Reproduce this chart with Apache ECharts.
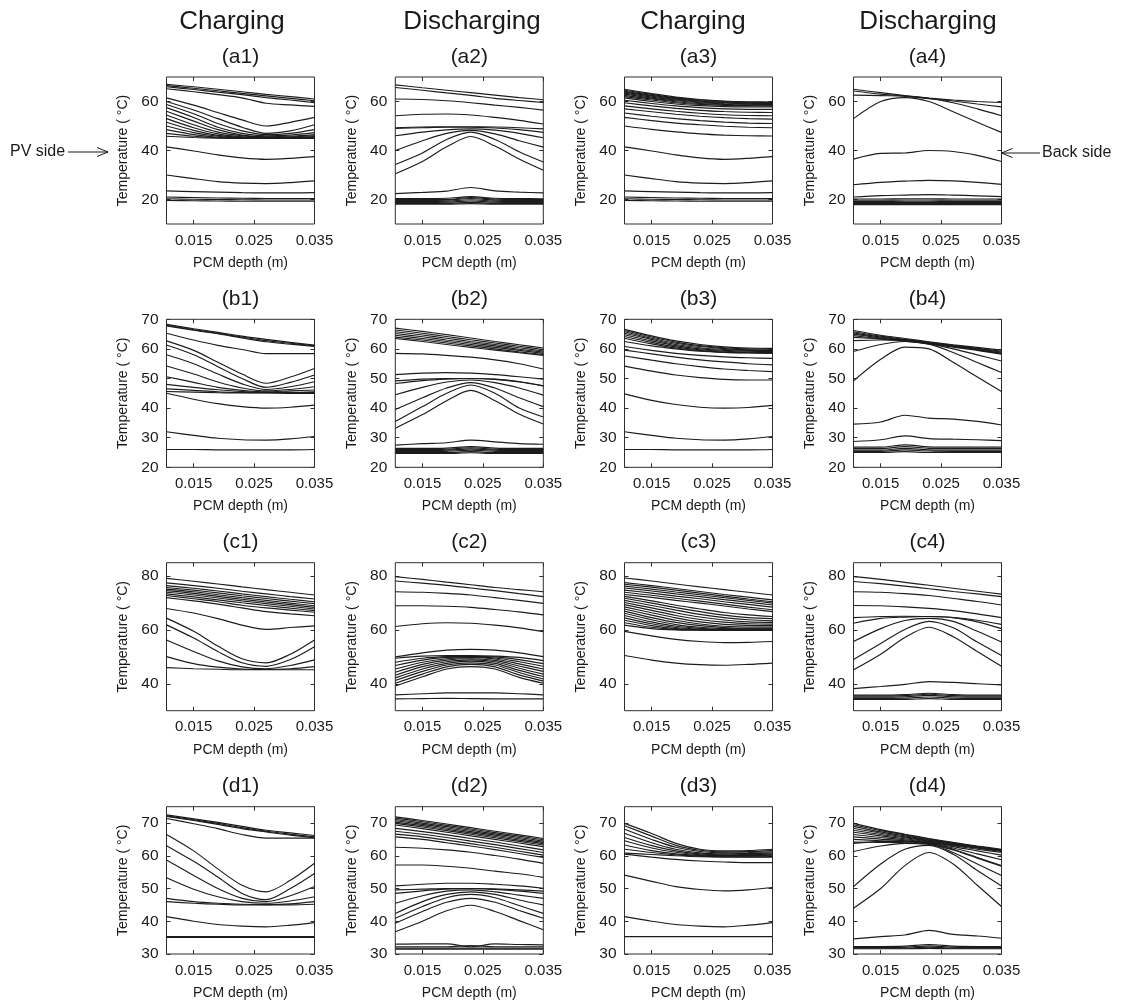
<!DOCTYPE html>
<html><head><meta charset="utf-8">
<script src="https://cdn.jsdelivr.net/npm/echarts@6/dist/echarts.min.js"></script>
<style>html,body{margin:0;padding:0;background:#fff}#c{width:1123px;height:1006px}</style>
</head><body><div id="c"></div>
<script>
// ---------- data ----------
const depth = [0.0105, 0.015, 0.019, 0.023, 0.027, 0.031, 0.035];
const xTicks = [0.015, 0.025, 0.035];
const yTicksA = [20, 40, 60];
const yTicksB = [20, 30, 40, 50, 60, 70];
const yTicksC = [40, 60, 80];
const yTicksD = [30, 40, 50, 60, 70];
const yRanges = [[10, 70], [20, 70], [30, 85], [30, 75]];
const colTitles = ['Charging', 'Discharging', 'Charging', 'Discharging'];
const panelLabels = [['(a1)','(a2)','(a3)','(a4)'],['(b1)','(b2)','(b3)','(b4)'],['(c1)','(c2)','(c3)','(c4)'],['(d1)','(d2)','(d3)','(d4)']];
const xName = 'PCM depth (m)';
const yName = 'Temperature ( °C)';

const a1 = [
 [67, 66, 65, 64, 62.9, 62, 61],
 [66.5, 65.4, 64.4, 63.3, 62.3, 61.3, 60.3],
 [66, 64.9, 63.8, 62.8, 61.6, 60.6, 59.5],
 [65.2, 64, 62.8, 61.5, 59.3, 58.6, 58],
 [61.5, 58.5, 55.5, 52.5, 50, 51.5, 53.5],
 [60, 56.5, 53, 49.5, 47, 48, 50.5],
 [58.8, 55, 51, 48, 46.5, 47, 48.5],
 [57.5, 53.5, 49.5, 47, 46, 46.3, 47.3],
 [56, 52, 48.5, 46.3, 45.6, 45.8, 46.5],
 [54.5, 50.5, 47.5, 46, 45.4, 45.5, 46],
 [53, 49.3, 46.8, 45.6, 45.3, 45.3, 45.7],
 [51.5, 48.2, 46.2, 45.4, 45.2, 45.2, 45.4],
 [50, 47.3, 45.8, 45.2, 45.1, 45.1, 45.2],
 [48.5, 46.5, 45.4, 45.1, 45, 45, 45.1],
 [47, 45.8, 45.2, 45, 45, 45, 45],
 [45.8, 45.3, 45, 44.9, 44.9, 44.9, 44.9],
 [41.5, 39.8, 38.2, 37, 36.4, 36.8, 37.5],
 [30, 28.5, 27.3, 26.7, 26.5, 26.9, 27.6],
 [23.5, 23.2, 23, 22.8, 22.7, 22.7, 22.8],
 [21, 20.8, 20.6, 20.5, 20.4, 20.4, 20.4],
 [20.3, 20.1, 20, 19.9, 19.8, 19.8, 19.8],
 [19.6, 19.5, 19.4, 19.3, 19.3, 19.3, 19.3]
];
const a2 = [
 [66.8, 65.6, 64.6, 63.6, 62.6, 61.6, 60.7],
 [65.7, 64.6, 63.5, 62.5, 61.3, 60.4, 59.6],
 [61, 60.8, 60.3, 59.5, 58.5, 57.6, 56.5],
 [54.2, 54.8, 54.9, 54.5, 53.5, 52.3, 50.8],
 [49.3, 49.6, 49.7, 49.7, 49.6, 49.3, 48.8],
 [49, 49.3, 49.5, 49.5, 49.2, 48.5, 47.4],
 [46, 47.5, 48.4, 48.8, 48.3, 47, 45.2],
 [40, 44, 47, 48.2, 46.8, 44, 41.4],
 [34.3, 39, 44.5, 47.5, 44.5, 39.5, 35.3],
 [30.5, 35.5, 41.5, 45.7, 41.8, 36.5, 31.9],
 [22.4, 22.9, 23.4, 24.9, 23.5, 23, 22.7],
 [20.4, 20.4, 20.5, 21.2, 20.5, 20.4, 20.3],
 [20, 20, 20, 20.8, 20.1, 20, 20],
 [19.6, 19.6, 19.7, 20.4, 19.7, 19.6, 19.6],
 [19.2, 19.2, 19.3, 19.9, 19.3, 19.2, 19.2],
 [18.8, 18.8, 18.9, 19.4, 18.9, 18.8, 18.8],
 [18.4, 18.4, 18.4, 18.8, 18.4, 18.4, 18.4],
 [18.1, 18.1, 18.1, 18.3, 18.1, 18.1, 18.1]
];
const a3 = [
 [65, 63.2, 61.8, 60.8, 60.2, 59.9, 59.8],
 [64.6, 62.9, 61.5, 60.6, 60, 59.7, 59.6],
 [64.2, 62.5, 61.2, 60.3, 59.8, 59.5, 59.4],
 [63.8, 62.2, 60.9, 60.1, 59.6, 59.3, 59.2],
 [63.4, 61.8, 60.6, 59.8, 59.4, 59.1, 59],
 [63, 61.4, 60.3, 59.5, 59.1, 58.9, 58.8],
 [62.5, 61, 59.9, 59.2, 58.8, 58.6, 58.5],
 [62, 60.6, 59.5, 58.8, 58.4, 58.3, 58.2],
 [61.5, 60, 59, 58.3, 57.9, 57.8, 57.8],
 [60.5, 59.2, 58.2, 57.5, 57, 56.8, 56.8],
 [59.5, 58.2, 57.2, 56.4, 55.9, 55.6, 55.5],
 [58.2, 57, 56, 55.2, 54.6, 54.3, 54.2],
 [57, 55.8, 54.8, 54, 53.4, 53, 52.8],
 [55.3, 54, 53, 52.2, 51.6, 51.2, 51],
 [53.5, 52.2, 51.2, 50.5, 49.9, 49.5, 49.3],
 [50, 48.6, 47.6, 46.8, 46.3, 46, 45.9],
 [41.5, 39.8, 38.2, 37, 36.4, 36.8, 37.5],
 [30, 28.5, 27.3, 26.7, 26.5, 26.9, 27.6],
 [23.5, 23.2, 23, 22.8, 22.7, 22.7, 22.8],
 [21, 20.8, 20.6, 20.5, 20.4, 20.4, 20.4],
 [20.3, 20.1, 20, 19.9, 19.8, 19.8, 19.8],
 [19.6, 19.5, 19.4, 19.3, 19.3, 19.3, 19.3]
];
const a4 = [
 [65, 63.6, 62.4, 61.4, 60.6, 60, 59.6],
 [64.3, 63, 62.2, 61.2, 60.2, 59, 57.8],
 [62.6, 62.4, 62.2, 61.3, 59.5, 57, 54.2],
 [53, 60, 61.6, 60, 55.8, 51.5, 47.4],
 [36.5, 38.8, 39, 40, 39.6, 38, 35.5],
 [26, 27, 27.5, 27.8, 27.6, 27, 26.2],
 [21, 21.6, 21.8, 22, 21.8, 21.5, 21.2],
 [20.2, 20.2, 20.3, 20.3, 20.2, 20.2, 20.2],
 [19.7, 19.7, 19.8, 19.8, 19.7, 19.7, 19.7],
 [19.2, 19.2, 19.3, 19.3, 19.2, 19.2, 19.2],
 [18.7, 18.7, 18.8, 18.8, 18.7, 18.7, 18.7],
 [18.3, 18.3, 18.3, 18.3, 18.3, 18.3, 18.3],
 [17.9, 17.9, 17.9, 17.9, 17.9, 17.9, 17.9]
];
const b1 = [
 [68.3, 66.8, 65.6, 64.3, 63.2, 62.2, 61.3],
 [68, 66.5, 65.3, 64, 62.8, 61.9, 61],
 [67.8, 66.3, 65.1, 63.7, 62.4, 61.6, 60.8],
 [65.3, 63, 61.2, 59.8, 58.4, 58.4, 58.4],
 [62.7, 59.5, 55.5, 51.5, 48.4, 50.5, 53.4],
 [61.3, 58, 54, 50, 47, 48.7, 51.2],
 [58, 55, 51.5, 48.2, 46.3, 47.2, 48.9],
 [54.2, 51.5, 48.8, 46.8, 45.8, 46.3, 47.2],
 [50.6, 48.7, 47, 46, 45.5, 45.8, 46.1],
 [48, 47, 46.2, 45.6, 45.3, 45.3, 45.5],
 [46.5, 46, 45.5, 45.3, 45.2, 45.2, 45.3],
 [45.6, 45.4, 45.2, 45.1, 45.1, 45, 45],
 [45, 43, 41.5, 40.5, 40, 40.3, 41],
 [32, 30.8, 29.8, 29.3, 29.2, 29.6, 30.4],
 [26, 26, 25.9, 25.9, 25.9, 25.9, 26]
];
const b2 = [
 [67, 65.9, 64.8, 63.7, 62.5, 61.4, 60.3],
 [66.4, 65.3, 64.2, 63.1, 62, 60.9, 59.8],
 [65.8, 64.7, 63.6, 62.5, 61.5, 60.4, 59.3],
 [65.2, 64.1, 63, 62, 61, 59.9, 58.9],
 [64.6, 63.5, 62.5, 61.5, 60.5, 59.5, 58.5],
 [64, 63, 62, 61, 60, 59, 58.1],
 [63.5, 62.5, 61.5, 60.5, 59.6, 58.7, 57.8],
 [58.5, 58.3, 57.8, 57.2, 56.3, 55, 53.2],
 [51.3, 51.8, 52, 51.8, 51.3, 50.6, 49.8],
 [49.2, 49.8, 50, 50, 49.7, 48.8, 47.5],
 [48.3, 49.3, 49.8, 50, 49.8, 49, 47.5],
 [44.5, 47, 48.8, 49.5, 48.6, 46.8, 44.4],
 [39.5, 43.5, 46.8, 48.6, 46.8, 43.5, 40.5],
 [35.5, 40.5, 45, 47.8, 45, 40, 37],
 [33.2, 37.8, 42.5, 46, 42.5, 38, 34.6],
 [27.5, 28, 28.3, 29.2, 28.6, 28, 27.8],
 [26.4, 26.4, 26.5, 27, 26.5, 26.4, 26.4],
 [26, 26, 26.1, 26.6, 26.1, 26, 26],
 [25.7, 25.7, 25.8, 26.2, 25.8, 25.7, 25.7],
 [25.3, 25.3, 25.4, 25.8, 25.4, 25.3, 25.3],
 [25, 25, 25, 25.3, 25, 25, 25],
 [24.7, 24.7, 24.7, 24.9, 24.7, 24.7, 24.7]
];
const b3 = [
 [66.6, 64.4, 62.7, 61.5, 60.7, 60.3, 60.2],
 [66.2, 64, 62.3, 61.1, 60.4, 60, 59.9],
 [65.8, 63.6, 61.9, 60.8, 60.1, 59.7, 59.6],
 [65.3, 63.2, 61.5, 60.4, 59.8, 59.5, 59.4],
 [64.8, 62.7, 61.1, 60, 59.5, 59.2, 59.1],
 [64.2, 62.2, 60.7, 59.7, 59.2, 58.9, 58.8],
 [63.6, 61.7, 60.3, 59.4, 58.9, 58.7, 58.6],
 [62.5, 61, 60, 59.2, 58.8, 58.6, 58.5],
 [60.8, 59.5, 58.5, 57.8, 57.3, 57, 56.8],
 [59.6, 58.3, 57.2, 56.3, 55.6, 55, 54.6],
 [57.6, 56.2, 55, 54, 53.2, 52.7, 52.3],
 [54.2, 52.5, 51.2, 50.3, 49.7, 49.5, 49.5],
 [44.8, 42.6, 41.2, 40.3, 40, 40.2, 40.9],
 [32, 30.8, 29.8, 29.3, 29.2, 29.6, 30.4],
 [26, 26, 25.9, 25.9, 25.9, 25.9, 26]
];
const b4 = [
 [66.2, 64.6, 63.5, 62.4, 61.4, 60.5, 59.6],
 [65.8, 64.3, 63.2, 62.2, 61.2, 60.2, 59.2],
 [65.4, 64, 63, 62, 61, 60, 58.9],
 [65, 63.7, 62.8, 61.9, 60.8, 59.7, 58.5],
 [64.5, 63.4, 62.6, 61.7, 60.6, 59.5, 58.2],
 [63.9, 63.4, 63, 62.2, 61, 59.8, 58.5],
 [62.8, 63, 62.8, 61.8, 60, 58, 55.9],
 [59.1, 61.5, 62.5, 61.6, 58.8, 55.4, 52],
 [49.2, 56.5, 60.6, 60, 55.5, 50.5, 45.6],
 [34.6, 35.3, 37.6, 36.6, 36.3, 35.5, 34.3],
 [28.7, 29.3, 30.6, 29.7, 29.5, 29.3, 29],
 [26.8, 26.8, 27.6, 26.9, 26.8, 26.8, 26.8],
 [26.3, 26.3, 27, 26.4, 26.3, 26.3, 26.3],
 [25.8, 25.8, 26.4, 25.9, 25.8, 25.8, 25.8],
 [25.4, 25.4, 25.9, 25.5, 25.4, 25.4, 25.4],
 [25, 25, 25.3, 25, 25, 25, 25]
];
const c1 = [
 [79.2, 78.1, 77.1, 76, 75, 74, 73],
 [77.5, 76.5, 75.5, 74.4, 73.4, 72.4, 71.5],
 [76.5, 75.5, 74.5, 73.4, 72.4, 71.4, 70.5],
 [75.8, 74.8, 73.8, 72.7, 71.7, 70.7, 69.8],
 [75.2, 74.2, 73.1, 72, 71, 70, 69],
 [74.6, 73.6, 72.5, 71.4, 70.4, 69.4, 68.4],
 [74, 73, 71.9, 70.8, 69.8, 68.8, 67.8],
 [73.4, 72.3, 71.2, 70.1, 69.1, 68.1, 67.2],
 [72.8, 71.6, 70.5, 69.2, 68.2, 67.4, 66.6],
 [72, 70.8, 69.6, 68.2, 66.8, 66, 65.3],
 [68, 66.3, 64.2, 61.8, 60.2, 60.9, 61.5],
 [64.4, 59.5, 54, 49.3, 47.8, 51, 56.3],
 [61.9, 57, 52, 47.8, 46.5, 49, 53.8],
 [56.3, 52, 48.5, 46.3, 45.6, 46.8, 48.9],
 [50.1, 47.5, 46.2, 45.5, 45.3, 45.6, 46.4],
 [46, 45.6, 45.4, 45.2, 45.2, 45.2, 45.2]
];
const c2 = [
 [79.8, 78.8, 77.8, 76.8, 75.8, 75, 74.2],
 [78.2, 77.4, 76.6, 75.6, 74.6, 73.5, 72.4],
 [74.2, 74, 73.6, 73, 72, 71, 69.9],
 [69, 69, 68.8, 68.4, 67.6, 66.7, 65.6],
 [61.3, 62.3, 62.7, 62.5, 61.8, 60.8, 59.4],
 [50, 51.5, 52.5, 52.8, 52.5, 51.5, 50.1],
 [49.5, 50.3, 50.5, 50.5, 50.3, 49.8, 48.6],
 [48, 49.5, 50.1, 50.2, 50, 49, 47.5],
 [46.8, 48.8, 49.8, 50, 49.6, 48.2, 46.5],
 [45.5, 48, 49.3, 49.7, 49.2, 47.4, 45.5],
 [44.3, 47.2, 48.8, 49.3, 48.7, 46.6, 44.6],
 [43.2, 46.4, 48.2, 48.9, 48.2, 45.8, 43.6],
 [42.2, 45.5, 47.6, 48.4, 47.6, 45, 42.7],
 [41.2, 44.6, 47, 47.8, 47, 44.2, 41.8],
 [40.2, 43.6, 46.3, 47.2, 46.3, 43.3, 41],
 [39.2, 42.6, 45.5, 46.4, 45.5, 42.4, 40.2],
 [35.9, 36.3, 36.6, 36.6, 36.6, 36.3, 35.9],
 [34.4, 34.5, 34.6, 34.5, 34.4, 34.4, 34.4]
];
const c3 = [
 [79.3, 78.2, 77.1, 76, 75, 74, 73],
 [77.6, 76.5, 75.4, 74.3, 73.2, 72.2, 71.2],
 [77, 75.9, 74.8, 73.7, 72.6, 71.5, 70.5],
 [76.3, 75.2, 74.1, 73.1, 72, 71, 70],
 [75.6, 74.5, 73.4, 72.4, 71.3, 70.3, 69.3],
 [74.8, 73.7, 72.6, 71.6, 70.5, 69.5, 68.5],
 [74, 72.9, 71.8, 70.7, 69.6, 68.5, 67.5],
 [73.2, 72.1, 71, 70, 68.9, 67.8, 66.8],
 [72.5, 70.8, 69.2, 67.8, 66.5, 65.6, 65],
 [71.8, 70, 68.3, 66.8, 65.5, 64.6, 64.2],
 [71, 69.1, 67.4, 65.8, 64.6, 63.8, 63.4],
 [70.2, 68.2, 66.4, 64.8, 63.7, 63, 62.8],
 [69.4, 67.3, 65.4, 63.9, 62.9, 62.3, 62.2],
 [68.6, 66.4, 64.5, 63, 62.1, 61.7, 61.6],
 [67.8, 65.5, 63.6, 62.2, 61.4, 61.1, 61.1],
 [67, 64.6, 62.8, 61.6, 60.9, 60.7, 60.7],
 [66.2, 63.8, 62, 61, 60.5, 60.4, 60.4],
 [65.4, 63, 61.4, 60.6, 60.2, 60.2, 60.2],
 [64.5, 62.3, 60.9, 60.3, 60.1, 60.1, 60.1],
 [63.6, 61.6, 60.5, 60.1, 60, 60, 60],
 [62.7, 61, 60.2, 60, 59.9, 59.9, 59.9],
 [61.8, 60.5, 60, 59.9, 59.8, 59.8, 59.8],
 [59.5, 57.8, 56.5, 55.7, 55.3, 55.4, 55.7],
 [50.5, 48.8, 47.7, 47.1, 46.9, 47.2, 47.7]
];
const c4 = [
 [79.8, 78.8, 77.7, 76.6, 75.5, 74.4, 73.3],
 [78, 77.2, 76.3, 75.3, 74.3, 73.4, 72.4],
 [74.2, 74, 73.5, 72.8, 71.7, 70.6, 69.3],
 [69.1, 69, 68.6, 68, 67.2, 66, 64.6],
 [64.6, 65, 65.1, 65, 64.6, 63.6, 62.1],
 [62.5, 64.3, 64.8, 65, 64.6, 63, 60.5],
 [55.7, 60.5, 63.5, 64.3, 63.2, 59.5, 55.5],
 [49, 55, 60.2, 63.2, 60.8, 55.5, 50.5],
 [45.2, 51, 57.2, 61, 57.5, 52, 46.5],
 [38.2, 39, 39.8, 40.8, 40.5, 40, 39.6],
 [35.8, 35.8, 36, 36.5, 36, 35.8, 35.8],
 [35.4, 35.4, 35.6, 36.1, 35.6, 35.4, 35.4],
 [35, 35, 35.2, 35.7, 35.2, 35, 35],
 [34.6, 34.6, 34.7, 35.1, 34.7, 34.6, 34.6],
 [34.2, 34.2, 34.2, 34.5, 34.2, 34.2, 34.2]
];
const d1 = [
 [72.5, 71.3, 70.2, 69, 67.8, 67, 66.2],
 [72.2, 71, 69.9, 68.6, 67.5, 66.6, 65.8],
 [72, 70.8, 69.6, 68.3, 67.3, 66.3, 65.5],
 [71.4, 69.8, 68.3, 66.5, 65.4, 65.4, 65.4],
 [66.5, 61.5, 56, 51, 49, 52.5, 57.7],
 [63.1, 58.3, 53.5, 48.5, 46.6, 50, 54.6],
 [58.7, 54, 50, 47, 46, 47.8, 50.6],
 [53.3, 49.8, 47.5, 46, 45.5, 46.2, 47.5],
 [47, 46, 45.5, 45.2, 45.1, 45.3, 46],
 [46, 45.5, 45.2, 45, 45, 45, 45.2],
 [41.4, 40, 39, 38.5, 38.3, 38.8, 39.6],
 [35.3, 35.3, 35.3, 35.3, 35.3, 35.3, 35.3],
 [35.1, 35.1, 35.1, 35.1, 35.1, 35.1, 35.1]
];
const d2 = [
 [71.9, 70.8, 69.7, 68.6, 67.5, 66.4, 65.3],
 [71.5, 70.4, 69.3, 68.2, 67.1, 66, 64.9],
 [71.1, 70, 68.9, 67.8, 66.7, 65.6, 64.5],
 [70.7, 69.6, 68.5, 67.4, 66.3, 65.2, 64.1],
 [70.3, 69.2, 68.1, 67, 65.9, 64.8, 63.7],
 [69.9, 68.8, 67.7, 66.6, 65.5, 64.4, 63.3],
 [69.4, 68.3, 67.2, 66.1, 65, 63.9, 62.8],
 [68.4, 67.4, 66.4, 65.3, 64.2, 63, 61.8],
 [67.5, 66.6, 65.6, 64.5, 63.4, 62.2, 61],
 [66.6, 65.8, 64.8, 63.7, 62.6, 61.4, 60.2],
 [65.8, 65, 64, 63, 61.9, 60.7, 59.5],
 [62.6, 62.3, 61.8, 61.1, 60.1, 59, 57.7],
 [57.2, 57.2, 56.8, 56.2, 55.3, 54.5, 53.4],
 [50.8, 51.3, 51.6, 51.6, 51.3, 50.8, 50.1],
 [49.6, 49.8, 50, 50, 49.9, 49.6, 49.2],
 [48.5, 49.3, 49.8, 50, 49.7, 49.2, 48.5],
 [45.5, 47.8, 49.2, 49.6, 49, 48, 47],
 [42.4, 46, 48.2, 49, 48.2, 46.5, 45],
 [40.9, 44.5, 47.2, 48.2, 47.2, 44.8, 42.4],
 [39.4, 43, 45.8, 47, 45.8, 43.3, 40.9],
 [36.8, 40, 43.2, 44.9, 43, 40.2, 37.4],
 [33, 33.1, 33.1, 32.2, 33.1, 32.9, 32.8],
 [32.2, 32.2, 32.2, 32.6, 32.2, 32.2, 32.2],
 [31.8, 31.8, 31.8, 31.8, 31.8, 31.8, 31.8],
 [31.5, 31.5, 31.5, 31.5, 31.5, 31.5, 31.5]
];
const d3 = [
 [69.9, 66.8, 63.8, 62, 61.5, 61.6, 62],
 [69.2, 66, 63.2, 61.7, 61.2, 61.3, 61.6],
 [68.1, 65, 62.6, 61.3, 60.9, 61, 61.2],
 [66.9, 64, 62, 60.9, 60.6, 60.7, 60.8],
 [65.6, 63.1, 61.5, 60.6, 60.3, 60.4, 60.5],
 [64.6, 62.4, 61.1, 60.3, 60.1, 60.1, 60.2],
 [63.3, 61.6, 60.6, 60.1, 59.9, 59.9, 60],
 [62, 61, 60.3, 59.9, 59.7, 59.7, 59.8],
 [60.8, 60.4, 60, 59.7, 59.6, 59.6, 59.6],
 [60.5, 59.6, 58.9, 58.4, 58.1, 57.9, 57.9],
 [54.1, 52.2, 50.6, 49.7, 49.3, 49.6, 50.3],
 [41.4, 40, 39, 38.5, 38.3, 38.8, 39.6],
 [35.3, 35.3, 35.3, 35.3, 35.3, 35.3, 35.3]
];
const d4 = [
 [69.9, 68, 66.6, 65.3, 64.1, 63, 62],
 [69.5, 67.7, 66.4, 65.1, 63.9, 62.8, 61.8],
 [69, 67.3, 66.1, 64.9, 63.8, 62.7, 61.7],
 [68.4, 66.9, 65.8, 64.7, 63.6, 62.6, 61.6],
 [67.8, 66.5, 65.5, 64.5, 63.5, 62.5, 61.5],
 [67.2, 66.1, 65.2, 64.3, 63.3, 62.3, 61.3],
 [66.5, 65.6, 64.9, 64.1, 63.1, 62, 61],
 [65.8, 65.1, 64.6, 63.9, 62.8, 61.5, 60.2],
 [65, 64.6, 64.3, 63.7, 62.4, 60.6, 58.8],
 [64.2, 64.1, 64, 63.5, 61.8, 59.3, 56.8],
 [63.8, 64.4, 64.5, 64, 62, 59.5, 57],
 [61.3, 63, 63.8, 63.6, 61, 57.5, 54],
 [50.6, 57.5, 62, 63.2, 60.5, 55.5, 50.8],
 [44, 50, 57, 61, 57.5, 51, 44.5],
 [34.6, 35.3, 35.8, 37.2, 36, 35.5, 34.8],
 [32.3, 32.3, 32.4, 32.9, 32.4, 32.3, 32.3],
 [32, 32, 32.1, 32.5, 32.1, 32, 32],
 [31.8, 31.8, 31.8, 32.1, 31.8, 31.8, 31.8],
 [31.6, 31.6, 31.6, 31.7, 31.6, 31.6, 31.6]
];
const panels = [[a1, a2, a3, a4], [b1, b2, b3, b4], [c1, c2, c3, c4], [d1, d2, d3, d4]];
const yTicks = [yTicksA, yTicksB, yTicksC, yTicksD];

// ---------- layout ----------
const colLeft = [166.5, 395.3, 624.5, 853.5];
const rowTop = [77, 319.3, 562.7, 806.7];
const rowH = [147, 148, 148, 147.3];
const plotW = 148;
const titleX = [232, 472, 693, 928];
const FONT = '"Liberation Sans", Arial, Helvetica, sans-serif';
const INK = '#1a1a1a';

const grids = [], xAxes = [], yAxes = [], series = [], graphics = [];
for (let r = 0; r < 4; r++) {
  for (let c = 0; c < 4; c++) {
    const k = r * 4 + c;
    grids.push({ left: colLeft[c], top: rowTop[r], width: plotW, height: rowH[r],
      show: true, borderColor: '#2e2e2e', borderWidth: 1, backgroundColor: 'transparent' });
    const tick = { inside: true, length: 4, lineStyle: { color: '#2e2e2e', width: 1 } };
    xAxes.push({ gridIndex: k, type: 'value', position: 'bottom', min: 0.0105, max: 0.035,
      axisLine: { show: false }, splitLine: { show: false },
      axisTick: Object.assign({ customValues: xTicks }, tick),
      axisLabel: { customValues: xTicks, formatter: v => v.toFixed(3), fontSize: 15, color: INK, margin: 9, fontFamily: FONT },
      name: xName, nameLocation: 'middle', nameGap: 32,
      nameTextStyle: { fontSize: 14, color: INK, fontFamily: FONT } });
    xAxes.push({ gridIndex: k, type: 'value', position: 'top', min: 0.0105, max: 0.035,
      axisLine: { show: false }, splitLine: { show: false },
      axisTick: Object.assign({ customValues: xTicks }, tick), axisLabel: { show: false } });
    yAxes.push({ gridIndex: k, type: 'value', position: 'left', min: yRanges[r][0], max: yRanges[r][1],
      axisLine: { show: false }, splitLine: { show: false },
      axisTick: Object.assign({ customValues: yTicks[r] }, tick),
      axisLabel: { customValues: yTicks[r], fontSize: 15.5, color: INK, margin: 8, fontFamily: FONT },
      name: yName, nameLocation: 'middle', nameGap: 36, nameRotate: 90,
      nameTextStyle: { fontSize: 14, color: INK, fontFamily: FONT } });
    yAxes.push({ gridIndex: k, type: 'value', position: 'right', min: yRanges[r][0], max: yRanges[r][1],
      axisLine: { show: false }, splitLine: { show: false },
      axisTick: Object.assign({ customValues: yTicks[r] }, tick), axisLabel: { show: false } });
    panels[r][c].forEach(curve => {
      series.push({ type: 'line', xAxisIndex: 2 * k, yAxisIndex: 2 * k,
        data: depth.map((x, i) => [x, curve[i]]), smooth: 0.3, symbol: 'none', showSymbol: false,
        silent: true, clip: true, lineStyle: { color: '#1c1c1c', width: 1.15 } });
    });
    graphics.push({ type: 'text', x: colLeft[c] + plotW / 2, y: rowTop[r] - 20,
      style: { text: panelLabels[r][c], fontSize: 21, fontFamily: FONT, fill: INK, textAlign: 'center', textVerticalAlign: 'middle' } });
  }
}
colTitles.forEach((t, c) => graphics.push({ type: 'text', x: titleX[c], y: 22,
  style: { text: t, fontSize: 26, fontFamily: FONT, fill: INK, textAlign: 'center', textVerticalAlign: 'middle' } }));

// annotations
const arrowY = rowTop[0] + 75;
graphics.push({ type: 'text', x: 10, y: arrowY, style: { text: 'PV side', fontSize: 16, fontFamily: FONT, fill: INK, textAlign: 'left', textVerticalAlign: 'middle' } });
graphics.push({ type: 'polyline', shape: { points: [[68, arrowY], [108, arrowY]] }, style: { stroke: INK, lineWidth: 1, fill: null } });
graphics.push({ type: 'polyline', shape: { points: [[97, arrowY - 4.5], [108, arrowY], [97, arrowY + 4.5]] }, style: { stroke: INK, lineWidth: 1, fill: null } });
const bx = colLeft[3] + plotW;
graphics.push({ type: 'text', x: 1042, y: arrowY + 1, style: { text: 'Back side', fontSize: 16, fontFamily: FONT, fill: INK, textAlign: 'left', textVerticalAlign: 'middle' } });
graphics.push({ type: 'polyline', shape: { points: [[1040, arrowY + 1], [bx, arrowY + 1]] }, style: { stroke: INK, lineWidth: 1, fill: null } });
graphics.push({ type: 'polyline', shape: { points: [[bx + 11, arrowY - 3.5], [bx, arrowY + 1], [bx + 11, arrowY + 5.5]] }, style: { stroke: INK, lineWidth: 1, fill: null } });

const chart = echarts.init(document.getElementById('c'), null, { renderer: 'canvas' });
chart.setOption({ animation: false, backgroundColor: '#fff', textStyle: { fontFamily: FONT },
  grid: grids, xAxis: xAxes, yAxis: yAxes, series: series, graphic: graphics });
</script></body></html>
